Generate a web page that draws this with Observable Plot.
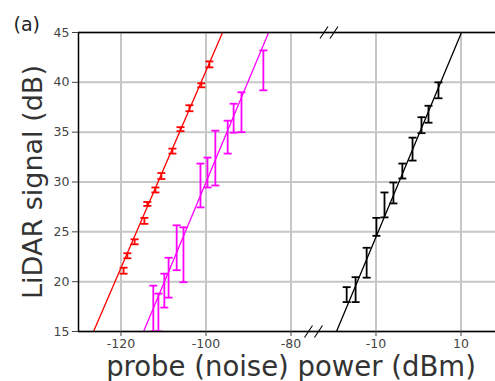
<!DOCTYPE html>
<html><head><meta charset="utf-8">
<script src="https://cdn.jsdelivr.net/npm/d3@7"></script>
<script src="https://cdn.jsdelivr.net/npm/@observablehq/plot@0.6"></script>
<style>body{margin:0;background:#fff;} #chart svg{display:block;}</style>
</head><body><div id="chart"></div>
<script>
// ---- data ----
const redX   = [-119.4, -118.5, -116.8, -114.5, -113.8, -111.9, -110.5, -107.9, -106.0, -103.9, -101.1, -99.2];
const redY   = [21.1, 22.6, 24.0, 26.1, 27.8, 29.2, 30.6, 33.1, 35.3, 37.4, 39.7, 41.8];
const redErr = [0.3, 0.25, 0.25, 0.3, 0.2, 0.25, 0.3, 0.25, 0.2, 0.3, 0.2, 0.3];

const magX   = [-112.4, -111.2, -109.8, -108.8, -106.9, -105.3, -101.3, -99.65, -97.8, -94.9, -93.5, -91.65, -86.5];
const magY   = [17.3, 16.9, 19.1, 20.4, 23.4, 22.7, 29.65, 30.95, 32.4, 34.5, 36.4, 37.0, 41.2];
const magErr = [2.3, 1.9, 1.7, 2.0, 2.25, 2.75, 2.2, 1.5, 2.75, 1.65, 1.45, 2.0, 2.0];

const blackX   = [-16.9, -14.8, -12.2, -9.9, -8.0, -5.9, -3.8, -1.4, 0.7, 2.35, 4.7];
const blackY   = [18.7, 19.2, 21.9, 25.5, 27.7, 28.9, 31.1, 33.3, 35.7, 36.8, 39.2];
const blackErr = [0.75, 1.25, 1.5, 0.9, 1.25, 1.05, 0.75, 1.15, 0.8, 0.85, 0.8];

const seriesNames  = ["red", "magenta", "black"];
const seriesColors = ["#ff0000", "#ff00ff", "#000000"];
const fitSlopes     = [0.988, 1.020, 1.020];
const fitIntercepts = [139.95, 131.97, 34.68];
const fitRanges     = [[-135, -80], [-135, -80], [-30, 25]];

const xTickLabels = [-120, -100, -80, -10, 10];
const yTicks = [15, 20, 25, 30, 35, 40, 45];
const xDomainDisplay = [-130, -31.88];
const yDomain = [15, 45];

// broken axis: values right of the break are shifted left by breakOffset
const breakValue = -50, breakOffset = 50;
const breakMarksX = [-21.06, -24.71]; // in right-segment units (top, bottom)
const breakMarksY = [45, 15];

const xLabel = "probe (noise) power (dBm)";
const yLabel = "LiDAR signal (dB)";
const panelLabel = "(a)";

// ---- build ----
const toU = v => v > breakValue ? v - breakOffset : v;
const xs = [redX, magX, blackX], ys = [redY, magY, blackY], es = [redErr, magErr, blackErr];
const pts = [];
xs.forEach((arr, s) => arr.forEach((x, i) => pts.push({
  s: seriesNames[s], c: seriesColors[s], u: toU(x), y: ys[s][i], lo: ys[s][i] - es[s][i], hi: ys[s][i] + es[s][i]
})));
const caps = pts.flatMap(p => [{c: p.c, u: p.u, y: p.lo}, {c: p.c, u: p.u, y: p.hi}]);
const fits = [];
seriesNames.forEach((n, s) => fitRanges[s].forEach(x => fits.push({
  s: n, c: seriesColors[s], u: toU(x), y: fitSlopes[s] * x + fitIntercepts[s]
})));
const xTickU = xTickLabels.map(toU);
const labelOf = new Map(xTickU.map((u, i) => [u, String(xTickLabels[i])]));
const breaks = breakMarksX.map((x, i) => ({u: toU(x), y: breakMarksY[i]}));

const capSymbol = {draw(ctx, size) { const r = Math.sqrt(size / Math.PI); ctx.moveTo(-r, 0); ctx.lineTo(r, 0); }};
const breakSymbol = {draw(ctx, size) {
  const r = Math.sqrt(size / Math.PI);
  for (const o of [-r, r]) { ctx.moveTo(o - 0.8 * r, 1.2 * r); ctx.lineTo(o + 0.8 * r, -1.2 * r); }
}};

const chart = Plot.plot({
  width: 495, height: 381,
  marginLeft: 78, marginRight: 0, marginTop: 32, marginBottom: 50,
  style: {fontFamily: "DejaVu Sans", background: "#fff", overflow: "visible"},
  x: {type: "linear", domain: xDomainDisplay},
  y: {domain: yDomain},
  marks: [
    Plot.ruleX(xTickU, {stroke: "#c6c6c6", strokeWidth: 2}),
    Plot.ruleY(yTicks, {stroke: "#c6c6c6", strokeWidth: 2}),
    Plot.line(fits, {x: "u", y: "y", z: "s", stroke: "c", strokeWidth: 1.3, clip: true}),
    Plot.ruleX(pts, {x: "u", y1: "lo", y2: "hi", stroke: "c", strokeWidth: 1.8, clip: true}),
    Plot.dot(caps, {x: "u", y: "y", symbol: capSymbol, r: 4, fill: "none", stroke: "c", strokeWidth: 1.8, clip: true}),
    Plot.ruleX([xDomainDisplay[0]], {stroke: "#000", strokeWidth: 1.5}),
    Plot.ruleY(yDomain, {stroke: "#000", strokeWidth: 1.5}),
    Plot.dot(breaks, {x: "u", y: "y", symbol: breakSymbol, r: 5, fill: "none", stroke: "#000", strokeWidth: 1.1}),
    Plot.axisX({ticks: xTickU, tickFormat: d => labelOf.get(d), tickSize: 5, tickPadding: 3, fontSize: 12.5, color: "#444", label: null}),
    Plot.axisY({ticks: yTicks, tickSize: 6, tickPadding: 3, fontSize: 12.5, color: "#444", label: null}),
    Plot.text([yLabel], {frameAnchor: "left", textAnchor: "middle", lineAnchor: "middle", rotate: -90, dx: -45, fontSize: 27, fill: "#333"}),
    Plot.text([xLabel], {frameAnchor: "bottom", textAnchor: "middle", lineAnchor: "middle", dy: 36, dx: 4, fontSize: 27.5, fill: "#333"}),
    Plot.text([panelLabel], {frameAnchor: "top-left", textAnchor: "start", lineAnchor: "middle", dx: -65, dy: -8, fontSize: 19, fill: "#222"})
  ]
});
document.getElementById("chart").append(chart);
</script>
</body></html>
